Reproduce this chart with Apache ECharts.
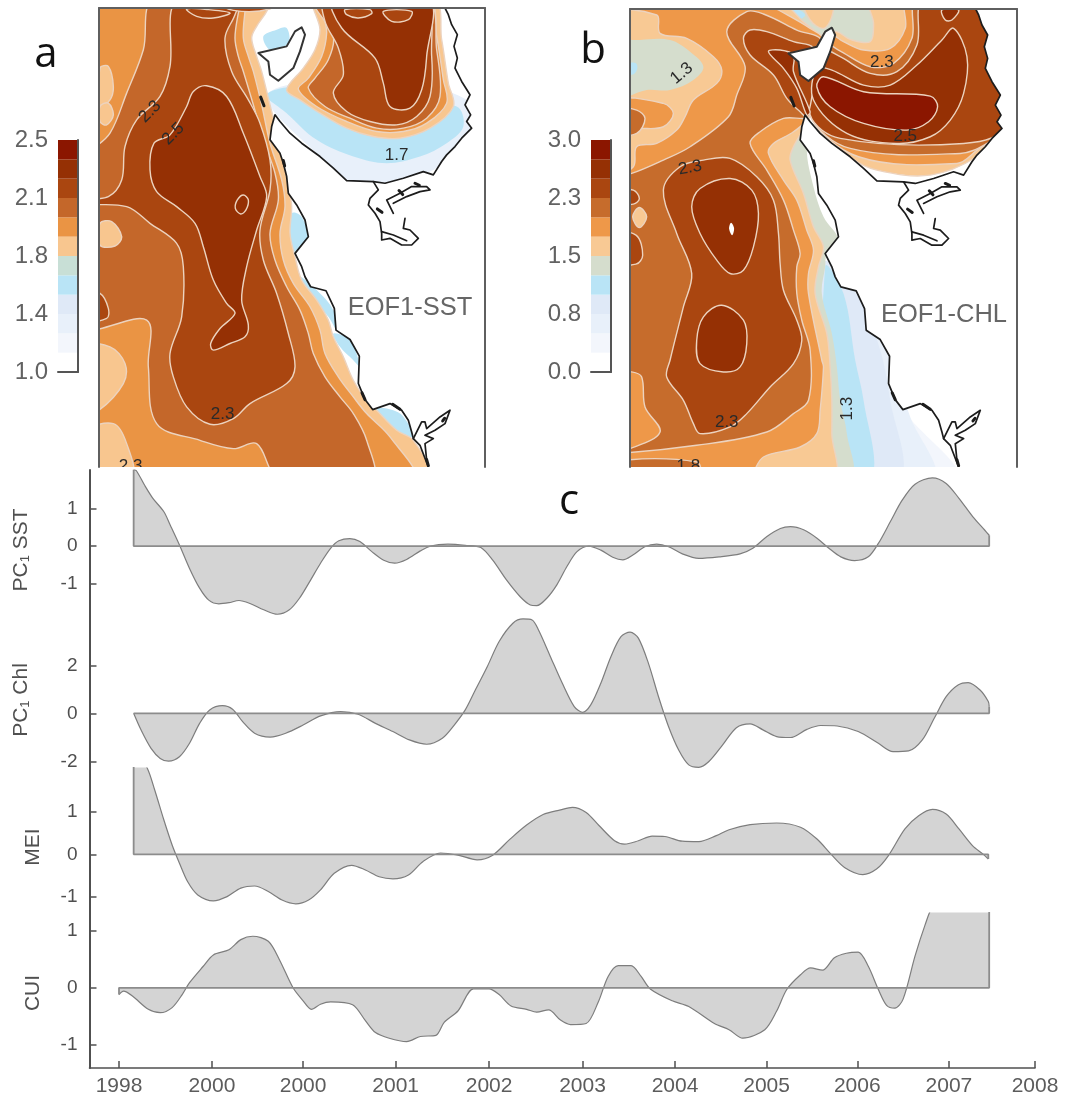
<!DOCTYPE html>
<html><head><meta charset="utf-8">
<style>html,body{margin:0;padding:0;background:#fff}#c{width:1065px;height:1097px}</style>
<script src="https://cdn.jsdelivr.net/npm/echarts@6/dist/echarts.min.js"></script>
</head><body><div id="c"></div>
<script>
// ---------- time series: years since the first tick, and value ----------
const tickOffsets=[0,1.015,2.01,3.02,4.04,5.06,6.07,7.07,8.06,9.06,10];
const tickLabels=['1998','2000','2000','2001','2002','2003','2004','2005','2006','2007','2008'];

const sstT=[.16,.19,.28,.37,.49,.56,.66,.77,.88,.98,1.09,1.20,1.31,1.43,1.58,1.73,1.86,1.97,2.08,2.20,2.31,2.40,2.52,2.63,2.76,2.89,3.01,3.14,3.29,3.40,3.59,3.78,3.95,4.08,4.23,4.38,4.49,4.56,4.67,4.78,4.89,5.00,5.13,5.26,5.39,5.50,5.61,5.74,5.87,6.00,6.15,6.33,6.55,6.78,6.92,7.07,7.22,7.33,7.48,7.62,7.75,7.88,8.03,8.18,8.29,8.42,8.55,8.69,8.88,9.03,9.17,9.32,9.45,9.50];
const sstV=[2.05,2.02,1.63,1.28,.92,.56,.03,-.60,-1.13,-1.45,-1.55,-1.52,-1.46,-1.54,-1.71,-1.83,-1.71,-1.40,-.96,-.46,-.06,.14,.20,.12,-.15,-.38,-.46,-.36,-.13,0,.05,.02,-.04,-.38,-.91,-1.36,-1.58,-1.60,-1.40,-1.04,-.55,-.15,0,-.11,-.30,-.37,-.24,-.02,.05,-.02,-.21,-.33,-.29,-.21,-.06,.25,.47,.52,.43,.21,-.06,-.29,-.39,-.29,.07,.65,1.23,1.66,1.83,1.68,1.28,.79,.43,.29];

const chlT=[.16,.24,.35,.45,.54,.66,.77,.88,.99,1.13,1.24,1.35,1.48,1.65,1.82,2.01,2.20,2.42,2.61,2.80,2.99,3.17,3.36,3.53,3.66,3.78,3.89,4.02,4.15,4.30,4.41,4.51,4.58,4.71,4.84,4.97,5.06,5.15,5.26,5.37,5.48,5.58,5.67,5.78,5.89,6.00,6.11,6.22,6.33,6.44,6.59,6.74,6.89,7.03,7.18,7.33,7.51,7.66,7.84,8.07,8.29,8.45,8.62,8.77,8.90,9.03,9.16,9.27,9.40,9.49,9.50];
const chlV=[0,-.69,-1.46,-1.88,-1.99,-1.81,-1.25,-.42,.14,.32,.17,-.35,-.83,-.99,-.83,-.49,-.11,.07,-.04,-.42,-.76,-1.11,-1.29,-1.04,-.49,.14,.97,1.94,2.99,3.75,3.93,3.89,3.47,2.36,1.25,.28,.04,.35,1.25,2.36,3.19,3.38,3.13,2.08,.69,-.56,-1.53,-2.15,-2.25,-2.01,-1.32,-.60,-.44,-.69,-.97,-1.01,-.67,-.51,-.53,-.76,-1.25,-1.60,-1.57,-1.11,-.21,.69,1.18,1.28,.97,.49,.28];

const meiT=[.16,.31,.39,.49,.58,.66,.75,.86,1.03,1.18,1.33,1.48,1.63,1.78,1.93,2.07,2.20,2.35,2.54,2.69,2.84,2.99,3.16,3.32,3.51,3.70,3.91,4.08,4.26,4.45,4.63,4.82,4.95,5.10,5.24,5.41,5.52,5.67,5.82,5.96,6.15,6.33,6.52,6.66,6.89,7.18,7.44,7.62,7.77,7.92,8.12,8.27,8.40,8.58,8.73,8.88,9.03,9.17,9.32,9.43,9.49];
const meiV=[2.54,2.03,1.52,.81,.22,-.21,-.65,-.96,-1.10,-1.00,-.80,-.75,-.88,-1.08,-1.17,-1.08,-.84,-.45,-.26,-.37,-.53,-.58,-.49,-.17,.03,-.02,-.13,-.02,.34,.69,.94,1.05,1.11,.99,.68,.32,.24,.32,.43,.42,.31,.30,.44,.58,.70,.74,.64,.36,.01,-.31,-.48,-.35,-.03,.60,.91,1.06,.95,.60,.20,.01,-.11];

const cuiT=[0,.05,.15,.32,.45,.58,.69,.77,.92,1.03,1.20,1.33,1.46,1.63,1.75,1.90,2.01,2.10,2.20,2.31,2.55,2.69,2.80,2.95,3.14,3.29,3.46,3.55,3.70,3.87,4.04,4.15,4.28,4.45,4.56,4.69,4.82,4.93,5.10,5.23,5.34,5.45,5.59,5.70,5.80,6.04,6.22,6.50,6.66,6.81,7.05,7.18,7.29,7.44,7.55,7.68,7.81,7.94,8.07,8.18,8.29,8.38,8.47,8.56,8.69,8.80,8.88,9.03,9.50];
const cuiV=[-.12,-.06,-.15,-.38,-.44,-.35,-.12,.09,.38,.58,.67,.85,.91,.82,.50,0,-.23,-.38,-.29,-.25,-.30,-.58,-.79,-.89,-.95,-.86,-.84,-.61,-.41,-.02,-.02,-.12,-.32,-.38,-.43,-.39,-.57,-.65,-.63,-.26,.20,.39,.39,.20,-.02,-.23,-.33,-.63,-.74,-.89,-.74,-.41,-.03,.23,.35,.31,.53,.61,.63,.38,-.03,-.31,-.36,-.20,.56,1.11,1.43,1.67,1.67];

// ---------- colour bars ----------
const bandColors=['#ffffff','#f3f6fc','#e8f0fa','#dfe9f7','#b9e4f6','#c8dfd6','#f8c68f','#ea9444','#c4672a','#aa4610','#953004','#8b1600'];
const bandColorsB=['#ffffff','#f3f6fc','#e8f0fa','#dfe9f7','#b9e4f6','#d5ddcd','#f8c994','#ee9849','#c66c2c','#aa4610','#953004','#8b1600'];
const barTicksA=[1,1.375,1.75,2.125,2.5];
const barTicksB=[0,.75,1.5,2.25,3];

// ---------- shared coastline (map grid units) ----------
const coast=[[1335,25],[1345,45],[1355,75],[1372,105],[1362,140],[1372,175],[1365,205],[1385,245],[1410,285],[1395,315],[1412,345],[1400,365],[1415,385],[1385,415],[1365,440],[1340,465],[1325,485],[1300,525],[1270,515],[1210,535],[1155,550],[1120,545],[1040,542],[1000,505],[960,470],[905,430],[870,400],[840,365],[825,345],[815,380],[810,420],[840,460],[850,490],[860,530],[865,580],[890,615],[915,660],[925,710],[885,760],[905,800],[915,830],[932,860],[978,872],[1003,925],[1008,990],[1050,1018],[1078,1068],[1075,1150],[1095,1198],[1118,1228],[1170,1210],[1205,1230],[1225,1260],[1235,1295],[1240,1315],[1260,1335],[1285,1400]];
const landCorners=[[1285,1430],[1500,1430],[1500,0],[1335,0]];
const island=[[775,160],[860,140],[885,95],[905,83],[915,105],[900,155],[880,205],[835,243],[810,225],[805,185],[775,160]];
const coastBits=[
 [[1120,545],[1135,570],[1110,595],[1105,615],[1125,640],[1140,665],[1145,700],[1145,720],[1170,715],[1205,735],[1235,735],[1255,715],[1230,690],[1210,685],[1215,655]],
 [[1180,640],[1160,600],[1200,580],[1235,560],[1280,560],[1290,570],[1260,575],[1220,590],[1180,610]],
 [[1145,695],[1180,705],[1220,722]],
 [[1240,1315],[1265,1265],[1275,1265],[1280,1285],[1320,1250],[1350,1230],[1335,1270],[1305,1290],[1275,1305],[1300,1315],[1275,1330],[1280,1380]]
];
const coastBlots=[
 [[782,292],[792,318]],[[1197,572],[1208,584]],[[1245,550],[1258,556]],[[1132,627],[1146,637]],
 [[1280,1378],[1285,1396]],[[1178,1212],[1200,1227]],[[1328,1262],[1334,1254]],[[1086,1178],[1095,1198]],[[850,482],[854,498]]
];

// ---------- map a contours: [colour band, outline] painted low to high ----------
const mapA=[
 [2,[[800,285],[830,345],[960,470],[1040,545],[1170,548],[1300,510],[1340,470],[1420,385],[1400,300],[1200,250],[900,250]]],
 [4,[[800,285],[860,340],[950,420],[1060,470],[1160,490],[1260,470],[1340,430],[1390,380],[1370,320],[1200,300],[900,260]]],
 [4,[[790,110],[830,90],[860,85],[865,130],[810,150]]],
 [4,[[875,640],[905,650],[925,720],[885,760],[870,720]]],
 [4,[[900,830],[950,870],[1000,930],[1010,990],[985,950],[930,890]]],
 [4,[[1000,1000],[1050,1020],[1080,1100],[1060,1080],[1020,1040]]],
 [4,[[1130,1225],[1200,1240],[1240,1310],[1190,1290],[1150,1260]]],
 [6,[[250,0],[810,0],[800,35],[770,80],[755,115],[770,170],[785,215],[810,315],[840,430],[865,560],[875,620],[870,700],[885,770],[905,840],[950,900],[985,960],[1000,1010],[1030,1070],[1060,1140],[1100,1200],[1130,1230],[1190,1290],[1240,1320],[1285,1430],[250,1430]]],
 [7,[[250,0],[740,0],[735,35],[730,115],[745,170],[760,215],[785,315],[810,430],[845,540],[855,620],[840,700],[850,780],[880,850],[930,920],[960,990],[975,1060],[1015,1130],[1060,1190],[1100,1240],[1170,1310],[1235,1430],[250,1430]]],
 [6,[[250,1040],[330,1040],[375,1090],[370,1150],[297,1230],[250,1240]]],
 [6,[[250,1300],[340,1270],[380,1330],[395,1430],[250,1430]]],
 [8,[[460,0],[430,150],[380,280],[330,400],[250,490],[250,975],[440,960],[445,1100],[470,1270],[600,1320],[700,1345],[770,1330],[835,1430],[1115,1430],[1100,1320],[1060,1240],[1020,1190],[975,1130],[940,1060],[925,1000],[900,930],[860,860],[825,780],[810,700],[835,600],[825,520],[790,420],[760,315],[730,215],[715,170],[705,115],[715,40],[725,0]]],
 [6,[[300,205],[325,200],[340,260],[330,300],[300,320]]],
 [6,[[300,320],[325,310],[340,345],[320,375],[300,365]]],
 [6,[[300,670],[335,665],[365,710],[345,738],[300,735]]],
 [9,[[530,0],[510,200],[480,290],[410,360],[375,440],[365,540],[325,590],[250,600],[250,612],[380,620],[450,670],[530,730],[550,800],[545,950],[510,1060],[520,1130],[560,1220],[630,1272],[700,1255],[750,1210],[860,1150],[885,1100],[865,1000],[830,880],[790,780],[780,690],[810,570],[810,480],[780,370],[745,300],[695,215],[675,115],[705,45],[715,0]]],
 [9,[[250,880],[300,880],[325,925],[320,955],[250,960]]],
 [10,[[620,258],[680,290],[730,400],[780,530],[800,590],[770,690],[740,800],[725,900],[745,975],[735,1010],[690,1030],[640,1050],[632,1030],[660,985],[705,940],[680,910],[640,840],[610,740],[585,670],[530,620],[470,575],[450,510],[462,430],[510,405],[560,320],[580,275]]],
 [10,[[730,585],[745,600],[738,630],[722,642],[706,625],[712,600]]],
 [9,[[640,0],[820,0],[810,28],[700,32]]],
 [9,[[560,28],[625,30],[690,40],[640,55],[590,50]]],
 [6,[[945,0],[960,90],[945,150],[910,205],[860,270],[900,300],[960,340],[1040,385],[1120,410],[1200,415],[1290,385],[1360,320],[1345,250],[1325,120],[1300,0]]],
 [7,[[975,0],[980,100],[965,170],[925,235],[895,268],[950,320],[1040,365],[1130,395],[1210,395],[1280,370],[1340,310],[1330,240],[1310,110],[1285,0]]],
 [8,[[945,0],[1000,110],[985,180],[945,235],[925,265],[975,320],[1050,355],[1130,385],[1210,385],[1280,355],[1320,290],[1310,150],[1280,0]]],
 [9,[[975,0],[975,65],[1015,145],[1030,225],[1000,280],[1040,335],[1110,365],[1190,375],[1250,350],[1290,290],[1295,170],[1270,0]]],
 [10,[[1000,0],[1025,85],[1125,175],[1150,250],[1170,320],[1230,325],[1265,270],[1280,170],[1285,0]]],
 [9,[[1035,30],[1110,30],[1115,42],[1075,55],[1040,45]]],
 [9,[[1150,35],[1235,35],[1225,60],[1175,65]]]
];
const labelsA=[['2.3',450,335,45],['2.5',520,402,45],['2.3',668,1243,0],['1.7',1190,465,0],['2.3',392,1398,0]];

// ---------- map b contours ----------
const mapB=[
 [1,[[880,790],[1060,1000],[1100,1200],[1280,1430],[900,1430]]],
 [2,[[880,790],[1010,920],[1090,1100],[1140,1250],[1210,1430],[900,1430]]],
 [3,[[880,790],[990,900],[1050,1050],[1080,1200],[1110,1430],[900,1430]]],
 [4,[[885,800],[940,880],[975,1080],[1000,1200],[1025,1430],[900,1430]]],
 [5,[[250,0],[1250,0],[1250,220],[1000,300],[860,260],[830,440],[850,560],[880,650],[925,720],[890,760],[885,800],[875,880],[905,1000],[920,1100],[930,1200],[950,1300],[955,1430],[250,1430]]],
 [4,[[740,28],[800,28],[825,45],[800,62],[760,58]]],
 [6,[[250,0],[735,0],[820,65],[870,120],[840,345],[790,440],[780,480],[820,580],[850,680],[880,740],[865,800],[855,880],[890,1000],[900,1100],[905,1200],[905,1300],[905,1430],[250,1430]]],
 [6,[[820,0],[905,0],[905,50],[880,85],[840,60]]],
 [7,[[250,0],[690,0],[745,30],[840,85],[880,120],[840,345],[790,395],[730,430],[715,460],[760,540],[800,600],[830,690],[850,750],[835,820],[835,880],[875,1080],[880,1100],[870,1230],[860,1300],[810,1340],[700,1370],[650,1430],[250,1430]]],
 [6,[[250,50],[380,45],[390,100],[470,115],[550,170],[575,210],[560,250],[490,300],[465,350],[440,390],[380,430],[320,440],[310,500],[250,520]]],
 [5,[[250,130],[330,120],[420,120],[480,155],[520,200],[490,240],[420,270],[350,270],[250,295]]],
 [4,[[300,190],[318,190],[322,205],[312,222],[300,222]]],
 [7,[[250,300],[400,310],[430,340],[400,380],[330,385],[250,385]]],
 [8,[[250,325],[320,330],[345,355],[320,400],[250,400]]],
 [8,[[650,35],[590,95],[645,200],[620,285],[595,350],[480,440],[400,480],[305,520],[250,530],[250,1115],[305,1115],[335,1130],[345,1220],[390,1295],[300,1345],[250,1350],[250,1360],[500,1335],[710,1295],[790,1240],[835,1200],[840,1050],[815,960],[800,880],[800,800],[810,760],[790,690],[760,600],[710,510],[660,430],[690,395],[760,355],[840,345],[875,125],[800,90],[700,42]]],
 [8,[[250,1385],[500,1385],[505,1430],[250,1430]]],
 [6,[[308,650],[328,622],[350,650],[328,682]]],
 [9,[[250,570],[310,570],[328,595],[310,612],[250,612]]],
 [9,[[250,700],[318,705],[338,765],[318,792],[250,785]]],
 [9,[[600,475],[680,530],[730,600],[745,700],[750,790],[760,870],[800,960],[815,1020],[790,1090],[720,1160],[650,1240],[600,1280],[510,1300],[490,1270],[460,1200],[410,1130],[420,1080],[460,920],[485,820],[440,700],[400,570],[450,500],[520,480]]],
 [10,[[600,535],[665,570],[685,640],[670,740],[640,810],[600,820],[560,780],[510,700],[485,620],[510,565]]],
 [10,[[575,915],[640,960],[650,1030],[630,1100],[580,1115],[510,1090],[500,1020],[520,950]]],
 [0,[[603,668],[612,685],[606,705],[597,685]]],
 [6,[[880,100],[920,95],[960,118],[1020,125],[1030,70],[1020,0],[1400,0],[1400,400],[1340,470],[1200,525],[1040,510],[960,470],[840,345],[860,200]]],
 [7,[[890,100],[940,125],[1000,150],[1080,145],[1125,85],[1130,0],[1400,0],[1400,400],[1340,450],[1280,490],[985,470],[840,345],[860,200]]],
 [8,[[880,130],[925,150],[1020,200],[1090,190],[1145,115],[1160,0],[1400,0],[1400,400],[1370,430],[1290,460],[960,445],[840,345],[860,200]]],
 [9,[[880,150],[930,170],[1020,220],[1100,215],[1160,135],[1180,0],[1420,0],[1420,380],[1300,430],[930,415],[840,345],[860,200]]],
 [9,[[640,115],[660,90],[710,95],[790,125],[850,145],[850,250],[830,350],[810,335],[770,295],[730,225],[660,165]]],
 [10,[[715,155],[750,150],[790,165],[790,215],[840,335],[830,345],[800,265],[760,205]]],
 [10,[[860,205],[905,210],[1000,255],[1080,255],[1160,195],[1235,120],[1270,85],[1310,170],[1300,280],[1260,360],[1200,410],[1100,430],[950,400],[850,300]]],
 [11,[[860,260],[880,230],[1000,275],[1200,288],[1222,320],[1195,365],[1130,390],[1000,370],[900,320]]],
 [10,[[1235,30],[1285,30],[1265,60],[1245,60]]]
];
const labelsB=[['1.3',455,220,40],['2.3',1055,188,0],['2.5',1125,408,0],['2.3',480,503,10],['2.3',590,1265,0],['1.3',950,1225,90],['1.8',475,1398,0]];

// ---------- build ----------
const FONT='"Liberation Sans",Arial,sans-serif';
const GREY='#505050';
const off={show:false};
const grids=[],xAxes=[],yAxes=[],series=[];
function addGrid(g,x,y){const i=grids.length;grids.push(g);x.gridIndex=i;xAxes.push(x);y.forEach(a=>{a.gridIndex=i;yAxes.push(a)});return{x:xAxes.length-1,y:yAxes.length-y.length}}
function frameLine(){return{show:true,onZero:false,lineStyle:{color:'#5f5f5f',width:2}}}

function addMap(box,xr,yr,layers,labels,bands,name){
 const ax=addGrid({left:box.l,top:box.t,width:box.w,height:box.h},
  {type:'value',min:xr[0],max:xr[1],position:'top',axisLine:frameLine(),axisTick:off,axisLabel:off,splitLine:off,z:10},
  [{type:'value',min:yr[0],max:yr[1],inverse:true,position:'left',axisLine:frameLine(),axisTick:off,axisLabel:off,splitLine:off,z:10},
   {type:'value',min:yr[0],max:yr[1],inverse:true,position:'right',axisLine:frameLine(),axisTick:off,axisLabel:off,splitLine:off,z:10}]);
 const land=coast.concat(landCorners);
 const items=layers.map(l=>({k:'fill',band:l[0],pts:l[1]}));
 items.push({k:'land',pts:land},{k:'land',pts:island},{k:'coast',pts:coast,w:1.7},{k:'coast',pts:island,w:2,c:'#333'});
 coastBits.forEach(b=>items.push({k:'coast',pts:b,w:1.7}));
 coastBlots.forEach(b=>items.push({k:'coast',pts:b,w:3}));
 series.push({name,type:'custom',coordinateSystem:'cartesian2d',xAxisIndex:ax.x,yAxisIndex:ax.y,clip:true,silent:true,
  data:items.map(it=>[it.pts[0][0],it.pts[0][1]]),
  renderItem(p,api){const it=items[p.dataIndex];const pts=it.pts.map(q=>api.coord(q));
   if(it.k==='fill'){const edge=it.band>=6;return{type:'polygon',shape:{points:pts,smooth:.35},style:{fill:bands[it.band],stroke:edge?'#ecd3bf':null,lineWidth:edge?1.4:0}}}
   if(it.k==='land')return{type:'polygon',shape:{points:pts},style:{fill:'#fff'}};
   return{type:'polyline',shape:{points:pts},style:{fill:null,stroke:it.c||'#1c1c1c',lineWidth:it.w,lineJoin:'round',lineCap:'round'}}}});
 series.push({name:name+' labels',type:'custom',coordinateSystem:'cartesian2d',xAxisIndex:ax.x,yAxisIndex:ax.y,clip:true,silent:true,z:5,
  data:labels.map(l=>[l[1],l[2]]),
  renderItem(p,api){const l=labels[p.dataIndex];const c=api.coord([l[1],l[2]]);
   return{type:'text',x:c[0],y:c[1],rotation:l[3]*Math.PI/180,style:{text:l[0],fill:'#2a2a2a',font:'17px '+FONT,align:'center',verticalAlign:'middle'}}}});
}
function addBar(left,ticks,bands){
 const lo=ticks[0],hi=ticks[ticks.length-1],step=(hi-lo)/bands.length;
 const barLine={show:true,onZero:false,lineStyle:{color:'#555',width:2}};
 const ax=addGrid({left,top:140,width:20,height:232},
  {type:'value',min:0,max:1,position:'bottom',axisLine:barLine,axisTick:off,axisLabel:off,splitLine:off,z:10},
  [{type:'value',min:lo,max:hi,position:'left',axisLine:off,splitLine:off,axisTick:off,
    axisLabel:{customValues:ticks,formatter:v=>v.toFixed(1),margin:10,fontSize:24,color:'#626262',fontFamily:FONT}},
   {type:'value',min:lo,max:hi,position:'right',axisLine:barLine,axisTick:off,axisLabel:off,splitLine:off,z:10}]);
 series.push({name:'colour bar',type:'custom',coordinateSystem:'cartesian2d',xAxisIndex:ax.x,yAxisIndex:ax.y,silent:true,
  data:bands.map((c,i)=>[0,lo+i*step]),
  renderItem(p,api){const i=p.dataIndex;const a=api.coord([0,lo+i*step]),b=api.coord([1,lo+(i+1)*step]);
   return{type:'rect',shape:{x:a[0],y:b[1],width:b[0]-a[0],height:a[1]-b[1]},style:{fill:bands[i]}}}});
}
addMap({l:99,t:8,w:386,h:459},[297,1455],[25,1400],mapA,labelsA,bandColors,'EOF1-SST');
addMap({l:630,t:9,w:387,h:458},[300,1460],[27,1400],mapB,labelsB,bandColorsB,'EOF1-CHL');
addBar(58,barTicksA,bandColors);
addBar(591,barTicksB,bandColorsB);

const XMIN=-.322;
function addSeries(name,t,v,top,bottom,ymin,ymax,yTicks,showX){
 const ax=addGrid({left:89.5,top,height:bottom-top,width:945.5},
  {type:'value',min:XMIN,max:10,position:'bottom',splitLine:off,
   axisLine:{show:!!showX,onZero:false,lineStyle:{color:GREY,width:1.6}},
   axisTick:showX?{show:true,inside:true,length:7,customValues:tickOffsets,lineStyle:{color:GREY,width:1.5}}:off,
   axisLabel:showX?{show:true,customValues:tickOffsets,margin:8,fontSize:21,color:'#5c5c5c',fontFamily:FONT,
     formatter:x=>tickLabels[tickOffsets.findIndex(o=>Math.abs(o-x)<1e-6)]}:off},
  [{type:'value',min:ymin,max:ymax,position:'left',splitLine:off,
    axisLine:{show:true,onZero:false,lineStyle:{color:GREY,width:2}},
    axisTick:{show:true,inside:true,length:7,customValues:yTicks,lineStyle:{color:GREY,width:1.5}},
    axisLabel:{show:true,customValues:yTicks,margin:12,fontSize:19,color:'#4f4f4f',fontFamily:FONT}}]);
 const pts=t.map((x,i)=>[x,v[i]]);
 series.push({name,type:'line',xAxisIndex:ax.x,yAxisIndex:ax.y,data:pts,smooth:.3,showSymbol:false,clip:true,silent:true,
  lineStyle:{color:'#7d7d7d',width:1.2},areaStyle:{color:'#d4d4d4',opacity:1,origin:0},z:2});
 const n=t.length-1;
 series.push({name:name+' base',type:'line',xAxisIndex:ax.x,yAxisIndex:ax.y,data:[[t[0],v[0]],[t[0],0],[t[n],0],[t[n],v[n]]],showSymbol:false,clip:true,silent:true,
  lineStyle:{color:'#8c8c8c',width:1.8},z:3});
}
addSeries('PC1 SST',sstT,sstV,470,618,-1.93,2.04,[-1,0,1]);
addSeries('PC1 Chl',chlT,chlV,618,768,-2.28,3.97,[-2,0,2]);
addSeries('MEI',meiT,meiV,768,913,-1.388,2.04,[-1,0,1]);
addSeries('CUI',cuiT,cuiV,913,1069,-1.416,1.32,[-1,0,1],true);

function vText(text,x,y){return{type:'text',x,y,rotation:Math.PI/2,z:20,style:{text,fill:'#505050',font:'21px '+FONT,align:'center',verticalAlign:'middle',
  rich:{s:{fontSize:13,fontFamily:FONT,fill:'#505050',verticalAlign:'bottom',padding:[6,0,0,0]}}}}}
function letter(text,x,y){return{type:'text',x,y,z:20,style:{text,fill:'#111',font:'42px "Open Sans",sans-serif',align:'center',verticalAlign:'middle'}}}
function mapText(text,x,y){return{type:'text',x,y,z:20,style:{text,fill:'#666',font:'25.5px '+FONT,align:'center',verticalAlign:'middle'}}}

const chart=echarts.init(document.getElementById('c'),null,{renderer:'canvas'});
chart.setOption({animation:false,backgroundColor:'#fff',grid:grids,xAxis:xAxes,yAxis:yAxes,series,
 graphic:[letter('a',46,55),letter('b',593,51),letter('c',569,502),
  mapText('EOF1-SST',410,308),mapText('EOF1-CHL',944,315),
  vText('PC{s|1} SST',21,550),vText('PC{s|1} Chl',21,700),vText('MEI',33,847),vText('CUI',33,993)]});
</script></body></html>
